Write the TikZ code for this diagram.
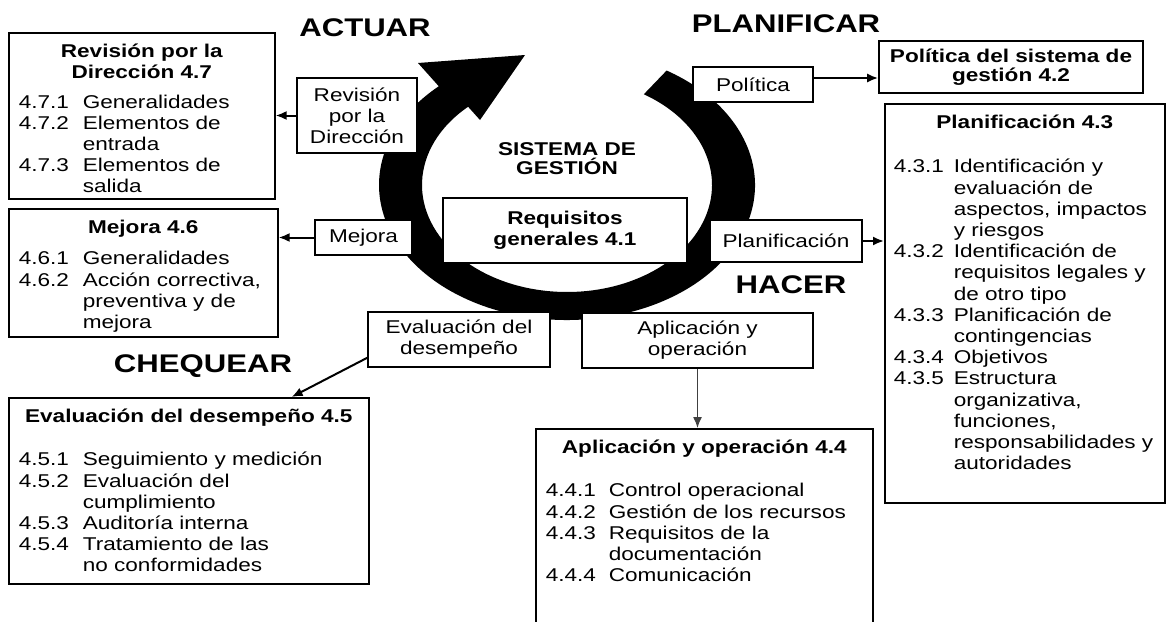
\documentclass[tikz,border=0pt]{standalone}
\usepackage{fontspec}
\setmainfont{Liberation Sans}[FakeStretch=1.22]
\usetikzlibrary{arrows.meta,calc}

\tikzset{
  box/.style={draw, fill=white, line width=1.6pt, inner sep=0pt, align=center,
    font=\fontsize{18.5}{21.2}\selectfont},
  bigbox/.style={draw, fill=white, line width=1.6pt, anchor=north west,
    inner xsep=10pt, inner ysep=10pt, font=\fontsize{18.5}{21.2}\selectfont},
  phase/.style={font=\fontsize{25.5}{28}\selectfont\bfseries},
  link/.style={line width=2pt, -{Latex[length=11pt,width=9pt]}}
}

\begin{document}
\begin{tikzpicture}[x=1pt,y=1pt]
\useasboundingbox (0,0) rectangle (1166,-621);

% ring with arrow head
\fill (567,-185) ++(58:188 and 135)
  arc[start angle=58, end angle=-227, x radius=188, y radius=135]
  -- (418,-63) -- (525,-55) -- (480,-120)
  -- ($(567,-185)+(-227:145 and 107)$)
  arc[start angle=-227, end angle=58, x radius=145, y radius=107] -- cycle;

\node[phase] (actuar) at (365,-28) {ACTUAR};
\node[phase] (planificar) at (786,-24) {PLANIFICAR};
\node[phase] (hacer) at (791,-285) {HACER};
\node[phase] (chequear) at (203,-366) {CHEQUEAR};
\node[font=\fontsize{18.5}{19}\selectfont\bfseries, align=center] (sistema) at (567,-159) {SISTEMA DE\\GESTIÓN};

% small boxes on the ring
\node[box, minimum width=120, minimum height=75] (revsmall) at (357,-115.5) {Revisión\\por la\\Dirección};
\node[box, minimum width=97, minimum height=35] (mejsmall) at (363.5,-237.5) {Mejora};
\node[box, minimum width=244, minimum height=65, font=\fontsize{18.5}{21.2}\selectfont\bfseries] (req) at (565,-230.5) {Requisitos\\generales 4.1};
\node[box, minimum width=182, minimum height=55] (evalsmall) at (459,-339.5) {Evaluación del\\desempeño};
\node[box, minimum width=231, minimum height=55] (aplsmall) at (697.5,-340.5) {Aplicación y\\operación};
\node[box, minimum width=120, minimum height=35] (polsmall) at (753,-84.5) {Política};
\node[box, minimum width=152, minimum height=42] (plansmall) at (786,-241) {Planificación};

% numbered boxes
\node[bigbox] (revdir) at (8,-32) {\parbox[c][146pt][t]{246pt}{%
  {\centering\bfseries\strut Revisión por la\\Dirección 4.7\par}\vspace{8pt}
  \begin{tabular}[t]{@{}p{64pt}@{}l@{}}
  4.7.1 & Generalidades\\
  4.7.2 & Elementos de\\
        & entrada\\
  4.7.3 & Elementos de\\
        & salida
  \end{tabular}}};

\node[bigbox] (mejbox) at (8,-208) {\parbox[c][108pt][t]{249pt}{%
  {\centering\bfseries\strut Mejora 4.6\par}\vspace{10pt}
  \begin{tabular}[t]{@{}p{64pt}@{}l@{}}
  4.6.1 & Generalidades\\
  4.6.2 & Acción correctiva,\\
        & preventiva y de\\
        & mejora
  \end{tabular}}};

\node[bigbox] (evalbox) at (8,-397) {\parbox[c][166pt][t]{340pt}{%
  {\centering\bfseries\strut Evaluación del desempeño 4.5\par}\vspace{22pt}
  \begin{tabular}[t]{@{}p{64pt}@{}l@{}}
  4.5.1 & Seguimiento y medición\\
  4.5.2 & Evaluación del\\
        & cumplimiento\\
  4.5.3 & Auditoría interna\\
  4.5.4 & Tratamiento de las\\
        & no conformidades
  \end{tabular}}};

\node[bigbox] (aplbox) at (535,-428) {\parbox[c][202pt][t]{317pt}{%
  {\centering\bfseries\strut Aplicación y operación 4.4\par}\vspace{22pt}
  \begin{tabular}[t]{@{}p{63pt}@{}l@{}}
  4.4.1 & Control operacional\\
  4.4.2 & Gestión de los recursos\\
  4.4.3 & Requisitos de la\\
        & documentación\\
  4.4.4 & Comunicación
  \end{tabular}}};

\node[box, minimum width=264, minimum height=52, font=\fontsize{18.5}{19.5}\selectfont\bfseries] (polbox) at (1011,-67) {Política del sistema de\\gestión 4.2};

\node[bigbox, inner xsep=9pt] (planbox) at (884,-103) {\parbox[c][379pt][t]{262pt}{%
  {\centering\bfseries\strut Planificación 4.3\par}\vspace{23pt}
  \begin{tabular}[t]{@{}p{60pt}@{}l@{}}
  4.3.1 & Identificación y\\
        & evaluación de\\
        & aspectos, impactos\\
        & y riesgos\\
  4.3.2 & Identificación de\\
        & requisitos legales y\\
        & de otro tipo\\
  4.3.3 & Planificación de\\
        & contingencias\\
  4.3.4 & Objetivos\\
  4.3.5 & Estructura\\
        & organizativa,\\
        & funciones,\\
        & responsabilidades y\\
        & autoridades
  \end{tabular}}};

% connectors
\draw[link] (revsmall.west) -- (revsmall.west -| revdir.east);
\draw[link] (mejsmall.west) -- (mejsmall.west -| mejbox.east);
\draw[link] ([yshift=6.5pt]polsmall.east) -- ([yshift=6.5pt]polsmall.east -| polbox.west);
\draw[link] (plansmall.east) -- (plansmall.east -| planbox.west);
\draw[link] ([yshift=10pt]evalsmall.south west) -- ([xshift=-78pt]evalbox.north east);
\draw[link, line width=1.3pt, draw=black!75] (aplsmall.south) -- (aplsmall.south |- aplbox.north);
\end{tikzpicture}
\end{document}
